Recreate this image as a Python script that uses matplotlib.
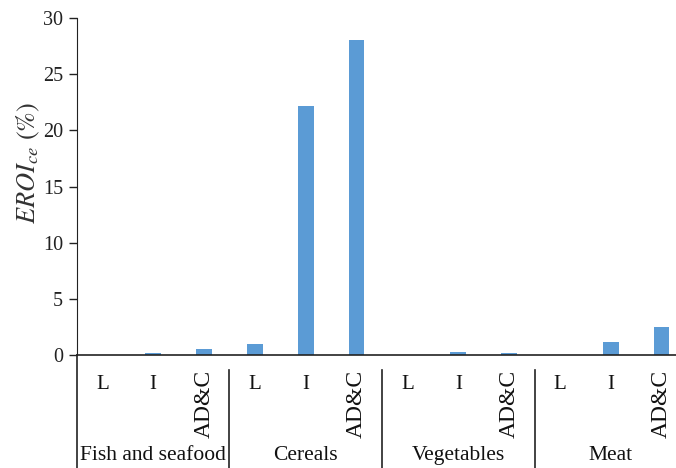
import matplotlib
matplotlib.use("Agg")
import matplotlib.pyplot as plt
import numpy as np

groups = ["Fish and seafood", "Cereals", "Vegetables", "Meat"]
subcats = ["L", "I", "AD&C"]
values = [
    [0.0, 0.2, 0.5],    # Fish and seafood
    [1.0, 22.2, 28.0],  # Cereals
    [0.0, 0.3, 0.2],    # Vegetables
    [0.0, 1.2, 2.5],    # Meat
]
y_ticks = [0, 5, 10, 15, 20, 25, 30]

plt.rcParams["font.family"] = ["Liberation Serif", "DejaVu Serif"]
plt.rcParams["mathtext.fontset"] = "stix"

fig = plt.figure(figsize=(6.76, 4.68), dpi=100)
ax = fig.add_axes([77 / 676, 113 / 468, 610 / 676, 337 / 468])

flat = np.array(values).ravel()
x = np.arange(len(flat))
ax.bar(x, flat, width=0.31, color="#5B9BD5")

ax.set_xlim(-0.5, len(flat) - 0.5)
ax.set_ylim(0, 30)
ax.set_yticks(y_ticks)
ax.tick_params(axis="y", direction="out", length=6, width=1, labelsize=14.5,
               pad=4, colors="#222222")
ax.set_xticks([])
for s in ["top", "right", "bottom"]:
    ax.spines[s].set_visible(False)
ax.spines["left"].set_color("#222222")
ax.axhline(0, color="#222222", lw=1.2, clip_on=False)
ax.set_ylabel(r"$EROI_{ce}\ (\%)$", fontsize=19, color="#333333")
ax.yaxis.set_label_coords(-0.058, 0.57)

trans = ax.get_xaxis_transform()
# y spine extends down to the bottom of the figure
ax.plot([-0.5, -0.5], [0, -0.335], transform=trans, color="#222222", lw=1.2,
        clip_on=False)

for i, lab in enumerate(subcats * len(groups)):
    if lab == "AD&C":
        ax.text(x[i], -0.043, lab, transform=trans, rotation=90, ha="center",
                va="top", fontsize=17, color="#111111")
    else:
        ax.text(x[i], -0.089, lab, transform=trans, ha="center", va="center",
                fontsize=15, color="#111111")

for g, name in enumerate(groups):
    ax.text(g * 3 + 1, -0.297, name, transform=trans, ha="center",
            va="center", fontsize=15.5, color="#111111")
    if g > 0:
        ax.plot([g * 3 - 0.5] * 2, [-0.0445, -0.335], transform=trans,
                color="#222222", lw=1.2, clip_on=False)

fig.savefig("out.png", dpi=100)
